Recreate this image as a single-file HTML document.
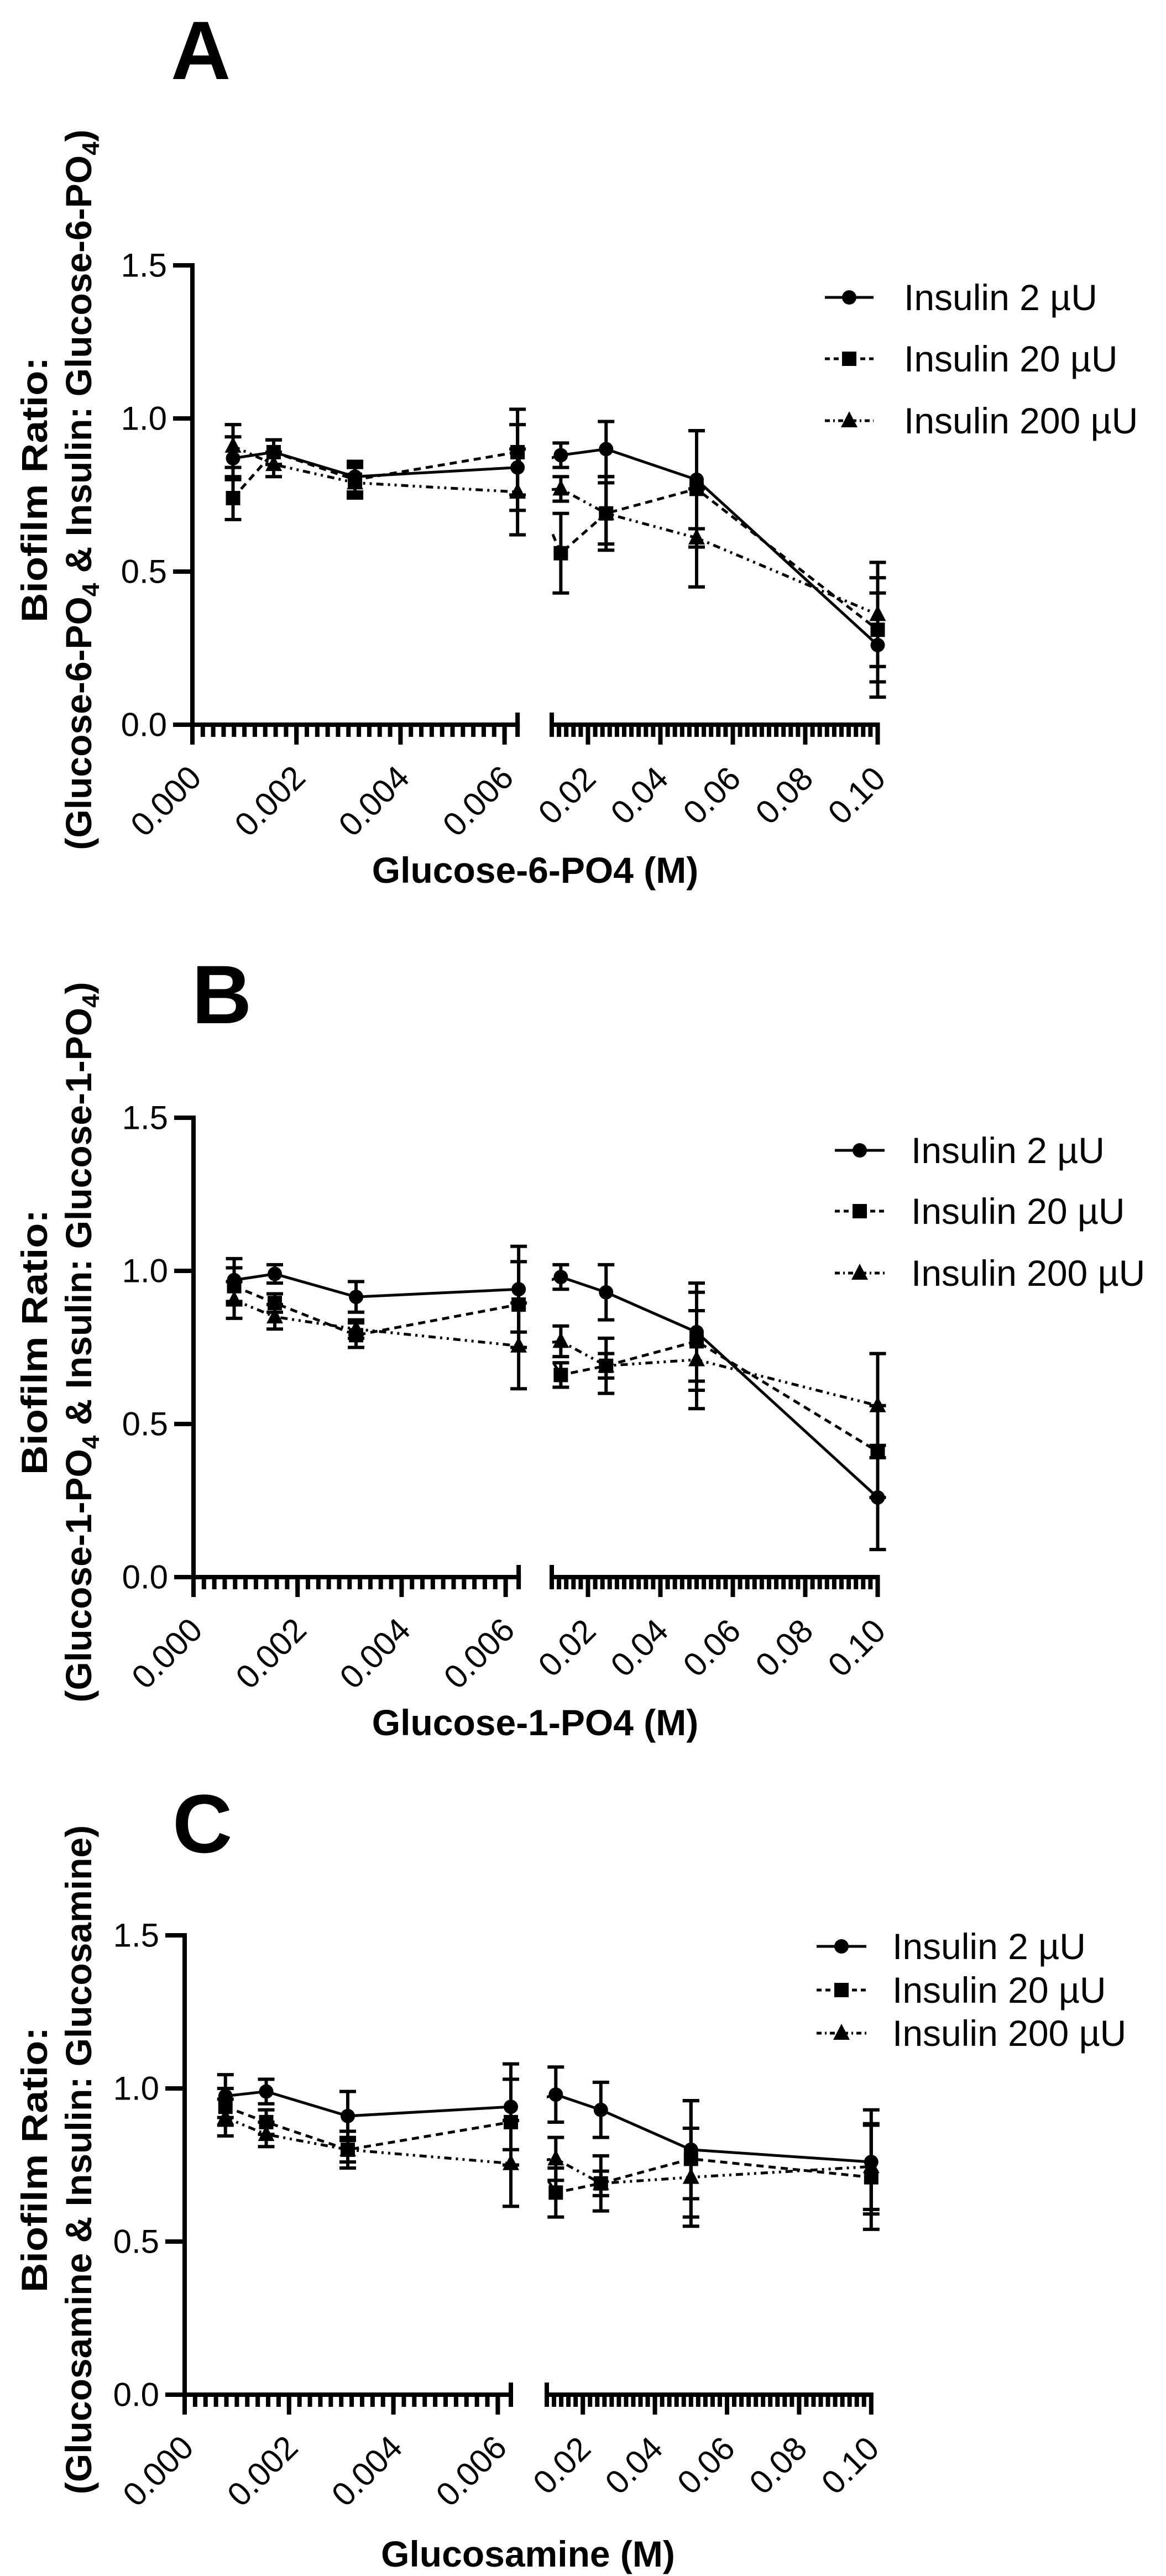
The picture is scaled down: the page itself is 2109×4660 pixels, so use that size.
<!DOCTYPE html>
<html><head><meta charset="utf-8"><style>
html,body{margin:0;padding:0;background:#fff}
svg{display:block}
text{font-family:"Liberation Sans",Arial,sans-serif;fill:#000}
</style></head><body>
<svg id="fig" xmlns="http://www.w3.org/2000/svg" width="2109" height="4660" viewBox="0 0 2109 4660"></svg>
<script>
const concentrations = [0.00078125,0.0015625,0.003125,0.00625,0.0125,0.025,0.05,0.1];
const seriesNames = ["Insulin 2 µU","Insulin 20 µU","Insulin 200 µU"];
const yTicks = [0,0.5,1.0,1.5];
const yTickLabels = ["0.0","0.5","1.0","1.5"];
const xLeftTicks = [0,0.002,0.004,0.006];
const xLeftLabels = ["0.000","0.002","0.004","0.006"];
const xRightTicks = [0.02,0.04,0.06,0.08,0.10];
const xRightLabels = ["0.02","0.04","0.06","0.08","0.10"];

const aIns2 = [0.87,0.89,0.81,0.84,0.88,0.90,0.80,0.26];
const aIns2Err = [0.07,0.04,0.05,0.14,0.04,0.09,0.16,0.17];
const aIns20 = [0.74,0.89,0.80,0.89,0.56,0.69,0.77,0.31];
const aIns20Err = [0.07,0.04,0.05,0.14,0.13,0.12,0.19,0.17];
const aIns200 = [0.91,0.85,0.79,0.76,0.77,0.69,0.61,0.36];
const aIns200Err = [0.07,0.04,0.05,0.14,0.04,0.10,0.16,0.17];

const bIns2 = [0.97,0.99,0.915,0.94,0.98,0.93,0.80,0.26];
const bIns2Err = [0.07,0.03,0.05,0.14,0.04,0.09,0.16,0.17];
const bIns20 = [0.95,0.895,0.79,0.89,0.66,0.69,0.77,0.41];
const bIns20Err = [0.06,0.03,0.04,0.14,0.04,0.09,0.16,0.15];
const bIns200 = [0.905,0.85,0.81,0.755,0.77,0.69,0.71,0.56];
const bIns200Err = [0.06,0.04,0.03,0.14,0.05,0.04,0.16,0.17];

const cIns2 = [0.975,0.99,0.91,0.94,0.98,0.93,0.80,0.76];
const cIns2Err = [0.07,0.04,0.08,0.14,0.09,0.09,0.16,0.17];
const cIns20 = [0.94,0.89,0.80,0.89,0.66,0.69,0.77,0.71];
const cIns20Err = [0.06,0.04,0.06,0.14,0.08,0.09,0.19,0.17];
const cIns200 = [0.905,0.85,0.80,0.755,0.77,0.69,0.71,0.745];
const cIns200Err = [0.06,0.04,0.04,0.14,0.07,0.04,0.16,0.14];

const NS = "http://www.w3.org/2000/svg";
const svg = document.getElementById("fig");
function mk(tag, attrs, parent){
  const e = document.createElementNS(NS, tag);
  for (const k in attrs) e.setAttribute(k, attrs[k]);
  (parent||svg).appendChild(e);
  return e;
}
const dashes = ["", "13 9", "13 8 4 8 4 8"];

const panels = [
  {id:"a", letter:"A", ox:348, y0:1311, ppu:554, lScale:94100, rStart:998, rScale:6550,
   letterX:309, letterY:143, legY:[538,649,761], legLine:[1492,1580], legText:1635,
   xTitle:"Glucose-6-PO4 (M)", xTitleX:968, xTitleY:1597, sub:"6",
   data:[[aIns2,aIns2Err],[aIns20,aIns20Err],[aIns200,aIns200Err]]},
  {id:"b", letter:"B", ox:350, y0:2853, ppu:554, lScale:94100, rStart:998, rScale:6550,
   letterX:347, letterY:1851, legY:[2081,2191,2303], legLine:[1510,1600], legText:1648,
   xTitle:"Glucose-1-PO4 (M)", xTitleX:968, xTitleY:3139, sub:"1",
   data:[[bIns2,bIns2Err],[bIns20,bIns20Err],[bIns200,bIns200Err]]},
  {id:"c", letter:"C", ox:334, y0:4332, ppu:554, lScale:94400, rStart:989, rScale:6520,
   letterX:312, letterY:3351, legY:[3521,3600,3678], legLine:[1477,1567], legText:1614,
   xTitle:"Glucosamine (M)", xTitleX:955, xTitleY:4643, sub:null,
   data:[[cIns2,cIns2Err],[cIns20,cIns20Err],[cIns200,cIns200Err]]}
];
const LEFT_MAX = 0.00625, RIGHT_MIN = 0.01, RIGHT_MAX = 0.1;

panels.forEach(p => {
  const g = mk("g", {});
  
  
  const xs = v => v <= LEFT_MAX + 1e-9 ? p.ox + v * p.lScale : p.rStart + (v - RIGHT_MIN) * p.rScale;
  const ys = v => p.y0 - v * p.ppu;
  const leftEnd = xs(LEFT_MAX);
  const rightEnd = xs(RIGHT_MAX);

  const L = mk("text", {x:p.letterX, y:p.letterY, "font-size":150, "font-weight":"bold"}, g);
  L.textContent = p.letter;
  
  

  const ya = mk("g", {stroke:"#000","stroke-width":8}, g);
  
  
  mk("line", {x1:p.ox, y1:ys(1.5)-4, x2:p.ox, y2:p.y0+4}, ya);
  yTicks.forEach((t,i) => {
    mk("line", {x1:p.ox-35, y1:ys(t), x2:p.ox, y2:ys(t)}, ya);
    const tl = mk("text", {x:p.ox-46, y:ys(t), "font-size":60, "text-anchor":"end", "dominant-baseline":"central", stroke:"none"}, g);
    tl.textContent = yTickLabels[i];
    
    
  });

  const xa = mk("g", {stroke:"#000","stroke-width":8}, g);
  
  
  mk("line", {x1:p.ox-4, y1:p.y0, x2:leftEnd+4, y2:p.y0}, xa);
  mk("line", {x1:p.rStart-4, y1:p.y0, x2:rightEnd+4, y2:p.y0}, xa);
  mk("line", {x1:leftEnd, y1:p.y0-22, x2:leftEnd, y2:p.y0+22}, xa);
  mk("line", {x1:p.rStart, y1:p.y0-22, x2:p.rStart, y2:p.y0+22}, xa);
  for (let k = 1; k < 32; k++) {
    const v = k * 0.0002;
    if (v > 0.0062) break;
    mk("line", {x1:xs(v), y1:p.y0, x2:xs(v), y2:p.y0+22}, xa);
  }
  for (let k = 1; k < 45; k++) {
    const v = RIGHT_MIN + k * 0.002;
    if (v > RIGHT_MAX + 1e-9) break;
    mk("line", {x1:xs(v), y1:p.y0, x2:xs(v), y2:p.y0+22}, xa);
  }
  const allT = xLeftTicks.concat(xRightTicks), allL = xLeftLabels.concat(xRightLabels);
  allT.forEach((t,i) => {
    const x = xs(t);
    mk("line", {x1:x, y1:p.y0, x2:x, y2:p.y0+36}, xa);
    const cx = x - 48 + (allL[i].length === 4 ? 10 : 0), cy = p.y0 + 138 - (allL[i].length === 4 ? 10 : 0);
    const tl = mk("text", {x:cx, y:cy, "font-size":60, "text-anchor":"middle", "dominant-baseline":"central",
      transform:`rotate(-45 ${cx} ${cy})`}, g);
    tl.textContent = allL[i];
    
    
  });

  const xt = mk("text", {x:p.xTitleX, y:p.xTitleY, "font-size":66, "font-weight":"bold", "text-anchor":"middle"}, g);
  xt.textContent = p.xTitle;
  
  
  const cy = p.y0 - 425;
  const yt1 = mk("text", {x:85, y:cy, "font-size":66, "font-weight":"bold", "text-anchor":"middle", textLength:480, lengthAdjust:"spacingAndGlyphs", transform:`rotate(-90 85 ${cy})`}, g);
  yt1.textContent = "Biofilm Ratio:";
  
  
  const yt2 = mk("text", {x:165, y:cy, "font-size":66, "font-weight":"bold", "text-anchor":"middle", transform:`rotate(-90 165 ${cy})`}, g);
  
  
  if (p.sub) {
    const parts = ["(Glucose-"+p.sub+"-PO", "4", " & Insulin: Glucose-"+p.sub+"-PO", "4", ")"];
    parts.forEach((s,i) => {
      const ts = mk("tspan", i % 2 ? {"font-size":44, dy:14} : (i > 0 ? {dy:-14} : {}), yt2);
      ts.textContent = s;
    });
  } else {
    yt2.textContent = "(Glucosamine & Insulin: Glucosamine)";
  }

  const defs = mk("defs", {}, g);
  const cl = mk("clipPath", {id:"clip-"+p.id}, defs);
  mk("rect", {x:0, y:0, width:leftEnd+6, height:4660}, cl);
  mk("rect", {x:p.rStart, y:0, width:2109-p.rStart, height:4660}, cl);

  p.data.forEach((ser, si) => {
    const vals = ser[0], errs = ser[1];
    const sg = mk("g", {}, g);
    
    
    const pts = concentrations.map((c,i) => xs(c).toFixed(1) + "," + ys(vals[i]).toFixed(1)).join(" ");
    const pl = mk("polyline", {points:pts, fill:"none", stroke:"#000", "stroke-width":5, "clip-path":`url(#clip-${p.id})`}, sg);
    if (dashes[si]) pl.setAttribute("stroke-dasharray", dashes[si]);
    
    
    concentrations.forEach((c,i) => {
      const x = xs(c), yv = vals[i], e = errs[i];
      const eb = mk("path", {d:`M${x},${ys(yv+e)}V${ys(yv-e)}M${x-15},${ys(yv+e)}H${x+15}M${x-15},${ys(yv-e)}H${x+15}`, stroke:"#000", "stroke-width":6, fill:"none"}, sg);
      
      
    });
    concentrations.forEach((c,i) => {
      const x = xs(c), y = ys(vals[i]);
      let m;
      if (si === 0) m = mk("circle", {cx:x, cy:y, r:13}, sg);
      else if (si === 1) m = mk("rect", {x:x-13, y:y-13, width:26, height:26}, sg);
      else m = mk("path", {d:`M${x},${y-17}L${x+15},${y+12}L${x-15},${y+12}Z`}, sg);
      
      
    });
  });

  const lg = mk("g", {}, g);
  
  
  seriesNames.forEach((nm, si) => {
    const ey = p.legY[si];
    const eg = mk("g", {}, lg);
    
    
    const ln = mk("line", {x1:p.legLine[0], y1:ey, x2:p.legLine[1], y2:ey, stroke:"#000", "stroke-width":5}, eg);
    if (dashes[si]) ln.setAttribute("stroke-dasharray", si === 1 ? "9 7" : "9 6 3 6");
    const mx = (p.legLine[0] + p.legLine[1]) / 2;
    if (si === 0) mk("circle", {cx:mx, cy:ey, r:13}, eg);
    else if (si === 1) mk("rect", {x:mx-13, y:ey-13, width:26, height:26}, eg);
    else mk("path", {d:`M${mx},${ey-17}L${mx+15},${ey+12}L${mx-15},${ey+12}Z`}, eg);
    const t = mk("text", {x:p.legText, y:ey, "font-size":66, "dominant-baseline":"central"}, eg);
    t.textContent = nm;
  });
});
</script>
</body></html>
